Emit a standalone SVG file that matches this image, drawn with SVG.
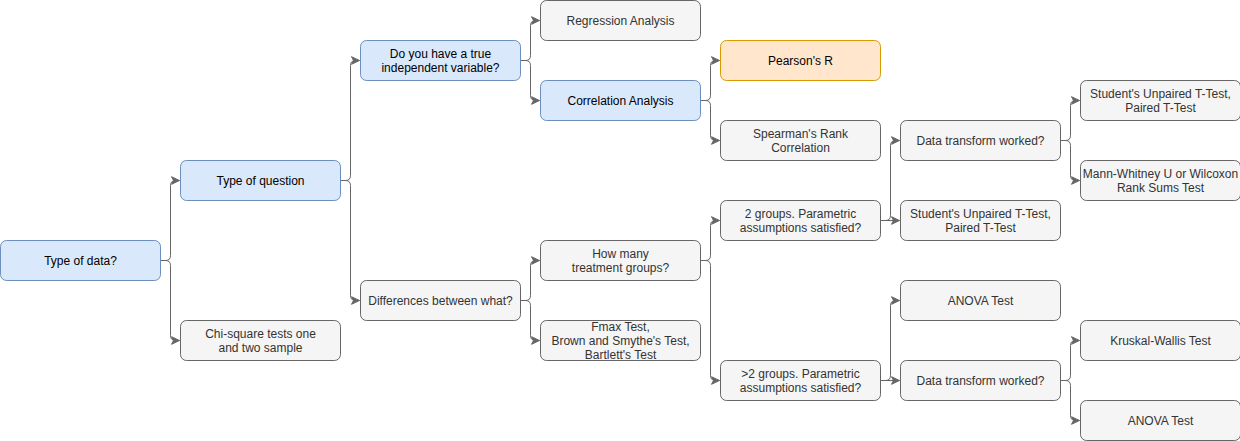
<svg xmlns="http://www.w3.org/2000/svg" width="1240" height="441" viewBox="0 0 1240 441">
<style>
.n rect{stroke-width:1;}
.blue rect{fill:#dae8fc;stroke:#6c8ebf;}
.gray rect{fill:#f5f5f5;stroke:#666666;}
.orange rect{fill:#ffe6cc;stroke:#d79b00;}
text{font-family:"Liberation Sans",Arial,sans-serif;font-size:12px;text-anchor:middle;}
.blue text,.orange text{fill:#000000;}
.gray text{fill:#333333;}
#edges path{fill:none;stroke:#666666;stroke-width:1;marker-end:url(#arr);}
</style>
<defs>
<marker id="arr" markerUnits="userSpaceOnUse" viewBox="-8 -4 9 8" refX="0" refY="0" markerWidth="9" markerHeight="8" orient="auto" overflow="visible">
<path d="M0,0 L-8,-3.8 L-6,0 L-8,3.8 Z" fill="#666666" stroke="#666666" stroke-width="1"/>
</marker>
</defs>
<rect width="1240" height="441" fill="#ffffff"/>
<g transform="translate(0.5,0.5)">
<g id="edges">
<path d="M160,260 H165 Q170,260 170,255 V185 Q170,180 175,180 H179"/>
<path d="M160,260 H165 Q170,260 170,265 V335 Q170,340 175,340 H179"/>
<path d="M340,180 H345 Q350,180 350,175 V65 Q350,60 355,60 H359"/>
<path d="M340,180 H345 Q350,180 350,185 V295 Q350,300 355,300 H359"/>
<path d="M520,60 H525 Q530,60 530,55 V25 Q530,20 535,20 H539"/>
<path d="M520,60 H525 Q530,60 530,65 V95 Q530,100 535,100 H539"/>
<path d="M520,300 H525 Q530,300 530,295 V265 Q530,260 535,260 H539"/>
<path d="M520,300 H525 Q530,300 530,305 V335 Q530,340 535,340 H539"/>
<path d="M700,100 H705 Q710,100 710,95 V65 Q710,60 715,60 H719"/>
<path d="M700,100 H705 Q710,100 710,105 V135 Q710,140 715,140 H719"/>
<path d="M700,260 H705 Q710,260 710,255 V225 Q710,220 715,220 H719"/>
<path d="M700,260 H705 Q710,260 710,265 V375 Q710,380 715,380 H719"/>
<path d="M880,220 H885 Q890,220 890,215 V145 Q890,140 895,140 H899"/>
<path d="M880,220 H899"/>
<path d="M880,380 H885 Q890,380 890,375 V305 Q890,300 895,300 H899"/>
<path d="M880,380 H899"/>
<path d="M1060,140 H1065 Q1070,140 1070,135 V105 Q1070,100 1075,100 H1079"/>
<path d="M1060,140 H1065 Q1070,140 1070,145 V175 Q1070,180 1075,180 H1079"/>
<path d="M1060,380 H1065 Q1070,380 1070,375 V345 Q1070,340 1075,340 H1079"/>
<path d="M1060,380 H1065 Q1070,380 1070,385 V415 Q1070,420 1075,420 H1079"/>
</g>
<g id="n-typedata" class="n blue"><rect x="0" y="240" width="160" height="40" rx="6"/><text x="80" y="264">Type of data?</text></g>
<g id="n-typequestion" class="n blue"><rect x="180" y="160" width="160" height="40" rx="6"/><text x="260" y="184">Type of question</text></g>
<g id="n-chisquare" class="n gray"><rect x="180" y="320" width="160" height="40" rx="6"/><text x="260" y="337">Chi-square tests one</text><text x="260" y="351">and two sample</text></g>
<g id="n-trueindep" class="n blue"><rect x="360" y="40" width="160" height="40" rx="6"/><text x="440" y="57">Do you have a true</text><text x="440" y="71">independent variable?</text></g>
<g id="n-differences" class="n gray"><rect x="360" y="280" width="160" height="40" rx="6"/><text x="440" y="304">Differences between what?</text></g>
<g id="n-regression" class="n gray"><rect x="540" y="0" width="160" height="40" rx="6"/><text x="620" y="24">Regression Analysis</text></g>
<g id="n-correlation" class="n blue"><rect x="540" y="80" width="160" height="40" rx="6"/><text x="620" y="104">Correlation Analysis</text></g>
<g id="n-howmany" class="n gray"><rect x="540" y="240" width="160" height="40" rx="6"/><text x="620" y="257">How many</text><text x="620" y="271">treatment groups?</text></g>
<g id="n-fmax" class="n gray"><rect x="540" y="320" width="160" height="40" rx="6"/><text x="620" y="330">Fmax Test,</text><text x="620" y="344">Brown and Smythe's Test,</text><text x="620" y="358">Bartlett's Test</text></g>
<g id="n-pearson" class="n orange"><rect x="720" y="40" width="160" height="40" rx="6"/><text x="800" y="64">Pearson's R</text></g>
<g id="n-spearman" class="n gray"><rect x="720" y="120" width="160" height="40" rx="6"/><text x="800" y="137">Spearman's Rank</text><text x="800" y="151">Correlation</text></g>
<g id="n-2groups" class="n gray"><rect x="720" y="200" width="160" height="40" rx="6"/><text x="800" y="217">2 groups. Parametric</text><text x="800" y="231">assumptions satisfied?</text></g>
<g id="n-gt2groups" class="n gray"><rect x="720" y="360" width="160" height="40" rx="6"/><text x="800" y="377">&gt;2 groups. Parametric</text><text x="800" y="391">assumptions satisfied?</text></g>
<g id="n-transform1" class="n gray"><rect x="900" y="120" width="160" height="40" rx="6"/><text x="980" y="144">Data transform worked?</text></g>
<g id="n-ttest1" class="n gray"><rect x="900" y="200" width="160" height="40" rx="6"/><text x="980" y="217">Student's Unpaired T-Test,</text><text x="980" y="231">Paired T-Test</text></g>
<g id="n-anova1" class="n gray"><rect x="900" y="280" width="160" height="40" rx="6"/><text x="980" y="304">ANOVA Test</text></g>
<g id="n-transform2" class="n gray"><rect x="900" y="360" width="160" height="40" rx="6"/><text x="980" y="384">Data transform worked?</text></g>
<g id="n-ttest2" class="n gray"><rect x="1080" y="80" width="160" height="40" rx="6"/><text x="1160" y="97">Student's Unpaired T-Test,</text><text x="1160" y="111">Paired T-Test</text></g>
<g id="n-mannwhitney" class="n gray"><rect x="1080" y="160" width="160" height="40" rx="6"/><text x="1160" y="177">Mann-Whitney U or Wilcoxon</text><text x="1160" y="191">Rank Sums Test</text></g>
<g id="n-kruskal" class="n gray"><rect x="1080" y="320" width="160" height="40" rx="6"/><text x="1160" y="344">Kruskal-Wallis Test</text></g>
<g id="n-anova2" class="n gray"><rect x="1080" y="400" width="160" height="40" rx="6"/><text x="1160" y="424">ANOVA Test</text></g>
</g>
</svg>
